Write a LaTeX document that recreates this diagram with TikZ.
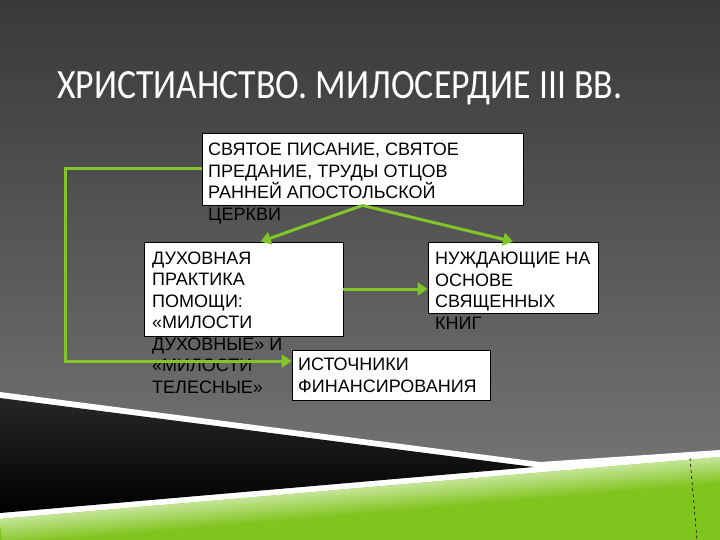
\documentclass[tikz,border=0pt]{standalone}
\usepackage{fontspec}
\usepackage{graphicx}
\setmainfont{Liberation Sans}
\newfontfamily\titlefont{Carlito}
\usetikzlibrary{arrows.meta}
\definecolor{bgtop}{RGB}{57,57,57}
\definecolor{bgmid}{RGB}{80,80,80}
\definecolor{bgbot}{RGB}{124,124,124}
\definecolor{linkgreen}{RGB}{128,198,40}
\definecolor{greenmain}{RGB}{128,196,30}
\definecolor{greenlight}{RGB}{196,228,150}
\tikzset{
  box/.style={draw=black, line width=0.8pt, fill=white, inner sep=0pt},
  boxtext/.style={anchor=north west, inner sep=0pt, align=left,
    font=\fontsize{18}{21.5}\selectfont},
  link/.style={linkgreen, line width=3pt, -{Triangle[length=10pt,width=13pt]}}
}

\begin{document}
\begin{tikzpicture}[x=1pt, y=-1pt]
% 背景
\useasboundingbox (0,0) rectangle (720,540);
\shade[top color=bgtop, middle color=bgmid, bottom color=bgbot] (0,0) rectangle (720,540);

% 下の飾り(白い帯、黒い楔、緑)
\fill[white] (0,392) -- (540,462) -- (720,450) -- (720,540) -- (0,540) -- cycle;
\shade[top color=black!85, bottom color=black] (0,398) -- (534,467) -- (0,513) -- cycle;
\fill[greenmain] (0,519) -- (720,457) -- (720,540) -- (0,540) -- cycle;
\begin{scope}[transform canvas={shift={(0,519)}, rotate=4.92}]
  \shade[top color=greenlight, bottom color=greenmain] (0,0) rectangle (740,26);
\end{scope}

% 右下の破線
\draw[black, dashed, line width=0.6pt] (690,458) -- (697,540);

% 題名
\node[anchor=base west, inner sep=0pt, text=white] (title) at (57,99)
  {\resizebox{565pt}{27pt}{\titlefont ХРИСТИАНСТВО. МИЛОСЕРДИЕ III ВВ.}};

% 箱
\node[box, minimum width=321pt, minimum height=72pt] (src) at (362.5,169) {};
\node[box, minimum width=199pt, minimum height=94pt] (prac) at (243.5,289) {};
\node[box, minimum width=170pt, minimum height=71pt] (need) at (513,277.5) {};
\node[box, minimum width=198pt, minimum height=50pt] (fund) at (391,375) {};

% 箱の文字(下にはみ出す)
\node[boxtext] (srctext) at (208,143)
  {СВЯТОЕ ПИСАНИЕ, СВЯТОЕ\\ПРЕДАНИЕ, ТРУДЫ ОТЦОВ\\РАННЕЙ АПОСТОЛЬСКОЙ\\ЦЕРКВИ};
\node[boxtext] (practext) at (152,251.7)
  {ДУХОВНАЯ\\ПРАКТИКА\\ПОМОЩИ:\\«МИЛОСТИ\\ДУХОВНЫЕ» И\\«МИЛОСТИ\\ТЕЛЕСНЫЕ»};
\node[boxtext] (needtext) at (435,252)
  {НУЖДАЮЩИЕ НА\\ОСНОВЕ\\СВЯЩЕННЫХ\\КНИГ};
\node[boxtext] (fundtext) at (298,358)
  {ИСТОЧНИКИ\\ФИНАНСИРОВАНИЯ};

% 矢印
\coordinate (loop) at (65,171);
\draw[link] (src.south) -- (prac.70);
\draw[link] (src.south) -- (need.north);
\draw[link] (prac.east) -- (prac.east -| need.west);
\draw[link] (src.west) -- (src.west -| loop) |- (fund.172.5);
\end{tikzpicture}
\end{document}
